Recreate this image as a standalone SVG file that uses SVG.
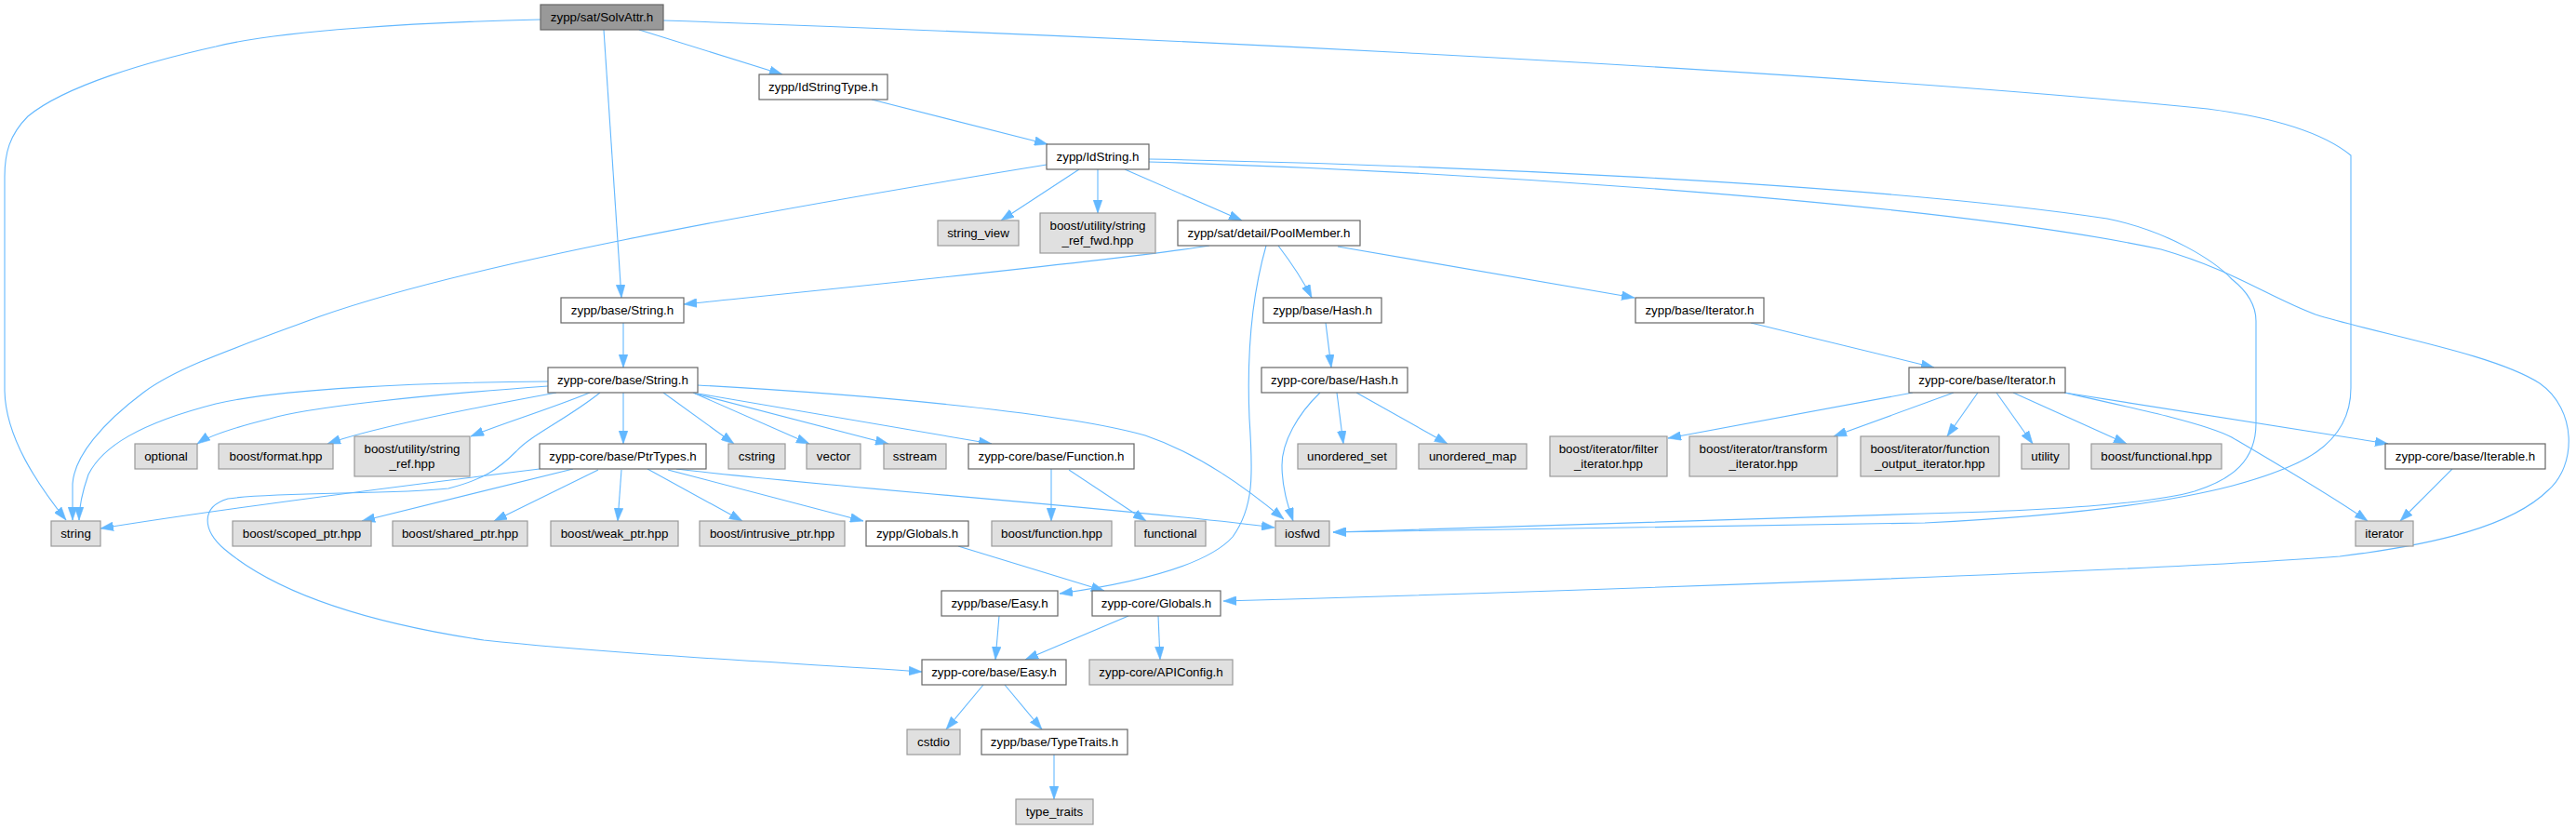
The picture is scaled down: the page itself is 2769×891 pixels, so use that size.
<svg xmlns="http://www.w3.org/2000/svg" width="2769" height="891" viewBox="0 0 2769 891">
<style>
text{font-family:"Liberation Sans",Arial,Helvetica,sans-serif;font-size:13.33px;fill:#000;text-anchor:middle}
.n rect{fill:#fff;stroke:#666;stroke-width:1.2}
.x rect{fill:#e0e0e0;stroke:#999;stroke-width:1.2}
.r rect{fill:#999;stroke:#666;stroke-width:1.2}
#edges path{fill:none;stroke:#63b8ff;stroke-width:1.1;marker-end:url(#ah)}
</style>
<defs>
<marker id="ah" markerUnits="userSpaceOnUse" markerWidth="14" markerHeight="10" viewBox="0 0 13 9" refX="13" refY="4.5" orient="auto">
<path d="M0,0 L13,4.5 L0,9 z" fill="#63b8ff" stroke="#63b8ff" stroke-width="0.5"/>
</marker>
</defs>
<rect width="2769" height="891" fill="#fff"/>
<g id="edges">
<path d="M581,21 C450,24 300,33 232,50 C160,66 70,92 30,125 C10,145 5,165 5,190 L5,420 C6,470 40,520 71,559"/>
<path d="M687,32 L841,80"/>
<path d="M649,32 L668,320"/>
<path d="M713,22 C1100,35 1900,70 2373,117 C2450,127 2500,145 2527,167 L2527,417 C2527,480 2470,503 2400,522 C2300,548 2150,558 2069,562 L1433,572"/>
<path d="M1235,171 C1500,176 2000,195 2265,235 C2330,248 2380,280 2399,300 C2418,315 2425,330 2425,345 L2425,455 C2425,495 2400,515 2359,528 C2300,545 2150,550 2069,552 L1433,572"/>
<path d="M1235,174 C1600,185 2100,220 2323,268 C2400,290 2440,320 2489,338 C2560,360 2680,380 2730,412 C2770,440 2770,500 2739,527 C2700,565 2620,585 2515,598 C2300,615 1600,638 1315,646"/>
<path d="M1125,177 C800,230 500,285 344,340 C250,375 190,395 154,422 C110,455 80,490 78,520 L78,559"/>
<path d="M1160,182 L1076,237"/>
<path d="M1180,182 L1180,229"/>
<path d="M1209,182 L1335,237"/>
<path d="M937,107 L1126,155"/>
<path d="M1300,264 C1200,280 900,310 735,327"/>
<path d="M1374,264 C1390,285 1400,300 1410,320"/>
<path d="M1438,265 L1757,320"/>
<path d="M1361,264 C1345,320 1340,380 1343,450 C1347,510 1348,545 1325,577 C1300,605 1230,625 1139,638"/>
<path d="M670,347 L670,395"/>
<path d="M1425,347 L1431,395"/>
<path d="M1882,347 L2079,395"/>
<path d="M589,410 C450,411 300,418 232,434 C150,455 110,480 95,510 C88,530 85,545 85,559"/>
<path d="M589,415 C450,425 330,438 290,450 C250,460 225,468 212,477"/>
<path d="M598,422 C500,440 400,460 352,477"/>
<path d="M634,422 C590,440 540,455 506,469"/>
<path d="M645,422 C610,450 570,468 555,485 C535,505 520,515 482,525 C420,532 300,528 245,536 C215,545 218,570 241,590 C300,640 400,670 520,688 C680,705 850,712 991,722"/>
<path d="M670,422 L670,477"/>
<path d="M713,422 L789,477"/>
<path d="M745,422 L870,477"/>
<path d="M747,423 L955,477"/>
<path d="M750,423 L1066,477"/>
<path d="M750,414 C950,425 1150,445 1231,468 C1290,488 1340,525 1380,558"/>
<path d="M580,504 C450,520 250,545 108,568"/>
<path d="M616,504 L389,560"/>
<path d="M643,505 L531,560"/>
<path d="M668,505 L664,560"/>
<path d="M696,504 L798,560"/>
<path d="M718,505 L928,560"/>
<path d="M727,504 C900,525 1200,545 1370,567"/>
<path d="M1130,504 L1130,560"/>
<path d="M1149,505 L1232,560"/>
<path d="M1030,587 L1187,635"/>
<path d="M1074,662 L1070,709"/>
<path d="M1213,662 L1102,709"/>
<path d="M1245,662 L1247,709"/>
<path d="M1057,736 L1017,784"/>
<path d="M1080,736 L1120,784"/>
<path d="M1133,811 L1133,859"/>
<path d="M1419,422 C1395,445 1378,475 1378,500 C1378,525 1385,545 1390,560"/>
<path d="M1437,422 L1444,477"/>
<path d="M1458,422 L1556,477"/>
<path d="M2056,422 L1793,471"/>
<path d="M2100,422 L1971,469"/>
<path d="M2126,422 L2093,469"/>
<path d="M2146,422 L2185,477"/>
<path d="M2164,422 L2286,477"/>
<path d="M2219,422 C2300,440 2370,455 2399,470 C2450,500 2510,535 2545,560"/>
<path d="M2219,422 L2567,477"/>
<path d="M2636,504 L2580,560"/>
</g>
<g id="SolvAttr" class="r"><rect x="581" y="5" width="132" height="27"/><text x="647" y="23.2">zypp/sat/SolvAttr.h</text></g>
<g id="IdStringType" class="n"><rect x="816" y="80" width="138" height="27"/><text x="885" y="98.2">zypp/IdStringType.h</text></g>
<g id="IdString" class="n"><rect x="1125" y="155" width="110" height="27"/><text x="1180" y="173.2">zypp/IdString.h</text></g>
<g id="string_view" class="x"><rect x="1008" y="237" width="87" height="27"/><text x="1051.5" y="255.2">string_view</text></g>
<g id="string_ref_fwd" class="x"><rect x="1118" y="229" width="124" height="43"/><text x="1180" y="247.1">boost/utility/string</text><text x="1180" y="263.4">_ref_fwd.hpp</text></g>
<g id="PoolMember" class="n"><rect x="1266" y="237" width="196" height="27"/><text x="1364" y="255.2">zypp/sat/detail/PoolMember.h</text></g>
<g id="base_String" class="n"><rect x="603" y="320" width="132" height="27"/><text x="669" y="338.2">zypp/base/String.h</text></g>
<g id="base_Hash" class="n"><rect x="1358" y="320" width="127" height="27"/><text x="1421.5" y="338.2">zypp/base/Hash.h</text></g>
<g id="base_Iterator" class="n"><rect x="1758" y="320" width="138" height="27"/><text x="1827" y="338.2">zypp/base/Iterator.h</text></g>
<g id="core_String" class="n"><rect x="589" y="395" width="161" height="27"/><text x="669.5" y="413.2">zypp-core/base/String.h</text></g>
<g id="core_Hash" class="n"><rect x="1356" y="395" width="157" height="27"/><text x="1434.5" y="413.2">zypp-core/base/Hash.h</text></g>
<g id="core_Iterator" class="n"><rect x="2052" y="395" width="168" height="27"/><text x="2136" y="413.2">zypp-core/base/Iterator.h</text></g>
<g id="optional" class="x"><rect x="145" y="477" width="67" height="27"/><text x="178.5" y="495.2">optional</text></g>
<g id="format" class="x"><rect x="235" y="477" width="123" height="27"/><text x="296.5" y="495.2">boost/format.hpp</text></g>
<g id="string_ref" class="x"><rect x="381" y="469" width="124" height="43"/><text x="443" y="487.1">boost/utility/string</text><text x="443" y="503.4">_ref.hpp</text></g>
<g id="PtrTypes" class="n"><rect x="580" y="477" width="179" height="27"/><text x="669.5" y="495.2">zypp-core/base/PtrTypes.h</text></g>
<g id="cstring" class="x"><rect x="783" y="477" width="61" height="27"/><text x="813.5" y="495.2">cstring</text></g>
<g id="vector" class="x"><rect x="867" y="477" width="58" height="27"/><text x="896" y="495.2">vector</text></g>
<g id="sstream" class="x"><rect x="950" y="477" width="67" height="27"/><text x="983.5" y="495.2">sstream</text></g>
<g id="Function" class="n"><rect x="1041" y="477" width="178" height="27"/><text x="1130" y="495.2">zypp-core/base/Function.h</text></g>
<g id="unordered_set" class="x"><rect x="1395" y="477" width="106" height="27"/><text x="1448" y="495.2">unordered_set</text></g>
<g id="unordered_map" class="x"><rect x="1525" y="477" width="116" height="27"/><text x="1583" y="495.2">unordered_map</text></g>
<g id="filter_iterator" class="x"><rect x="1666" y="469" width="126" height="43"/><text x="1729" y="487.1">boost/iterator/filter</text><text x="1729" y="503.4">_iterator.hpp</text></g>
<g id="transform_iterator" class="x"><rect x="1816" y="469" width="159" height="43"/><text x="1895.5" y="487.1">boost/iterator/transform</text><text x="1895.5" y="503.4">_iterator.hpp</text></g>
<g id="function_output_iterator" class="x"><rect x="2000" y="469" width="149" height="43"/><text x="2074.5" y="487.1">boost/iterator/function</text><text x="2074.5" y="503.4">_output_iterator.hpp</text></g>
<g id="utility" class="x"><rect x="2173" y="477" width="51" height="27"/><text x="2198.5" y="495.2">utility</text></g>
<g id="functional_hpp" class="x"><rect x="2248" y="477" width="140" height="27"/><text x="2318" y="495.2">boost/functional.hpp</text></g>
<g id="Iterable" class="n"><rect x="2564" y="477" width="172" height="27"/><text x="2650" y="495.2">zypp-core/base/Iterable.h</text></g>
<g id="string" class="x"><rect x="55" y="560" width="53" height="27"/><text x="81.5" y="578.2">string</text></g>
<g id="scoped_ptr" class="x"><rect x="250" y="560" width="149" height="27"/><text x="324.5" y="578.2">boost/scoped_ptr.hpp</text></g>
<g id="shared_ptr" class="x"><rect x="422" y="560" width="145" height="27"/><text x="494.5" y="578.2">boost/shared_ptr.hpp</text></g>
<g id="weak_ptr" class="x"><rect x="592" y="560" width="137" height="27"/><text x="660.5" y="578.2">boost/weak_ptr.hpp</text></g>
<g id="intrusive_ptr" class="x"><rect x="752" y="560" width="156" height="27"/><text x="830" y="578.2">boost/intrusive_ptr.hpp</text></g>
<g id="zypp_Globals" class="n"><rect x="931" y="560" width="110" height="27"/><text x="986" y="578.2">zypp/Globals.h</text></g>
<g id="function_hpp" class="x"><rect x="1066" y="560" width="129" height="27"/><text x="1130.5" y="578.2">boost/function.hpp</text></g>
<g id="functional" class="x"><rect x="1220" y="560" width="76" height="27"/><text x="1258" y="578.2">functional</text></g>
<g id="iosfwd" class="x"><rect x="1371" y="560" width="58" height="27"/><text x="1400" y="578.2">iosfwd</text></g>
<g id="iterator" class="x"><rect x="2532" y="560" width="62" height="27"/><text x="2563" y="578.2">iterator</text></g>
<g id="base_Easy" class="n"><rect x="1012" y="635" width="125" height="27"/><text x="1074.5" y="653.2">zypp/base/Easy.h</text></g>
<g id="core_Globals" class="n"><rect x="1174" y="635" width="138" height="27"/><text x="1243" y="653.2">zypp-core/Globals.h</text></g>
<g id="core_Easy" class="n"><rect x="991" y="709" width="155" height="27"/><text x="1068.5" y="727.2">zypp-core/base/Easy.h</text></g>
<g id="APIConfig" class="x"><rect x="1171" y="709" width="154" height="27"/><text x="1248" y="727.2">zypp-core/APIConfig.h</text></g>
<g id="cstdio" class="x"><rect x="975" y="784" width="57" height="27"/><text x="1003.5" y="802.2">cstdio</text></g>
<g id="TypeTraits" class="n"><rect x="1055" y="784" width="157" height="27"/><text x="1133.5" y="802.2">zypp/base/TypeTraits.h</text></g>
<g id="type_traits" class="x"><rect x="1092" y="859" width="83" height="27"/><text x="1133.5" y="877.2">type_traits</text></g>
</svg>
